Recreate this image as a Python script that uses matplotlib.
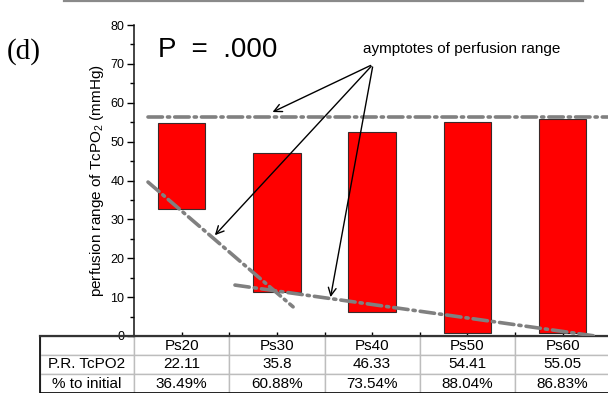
import matplotlib.pyplot as plt
from matplotlib.lines import Line2D

plt.rcParams['font.family'] = ['Liberation Sans', 'DejaVu Sans']
plt.rcParams['mathtext.fontset'] = 'custom'
plt.rcParams['mathtext.rm'] = 'Liberation Sans'
plt.rcParams['mathtext.it'] = 'Liberation Sans:italic'

categories = ['Ps20', 'Ps30', 'Ps40', 'Ps50', 'Ps60']
pr_range = [22.11, 35.8, 46.33, 54.41, 55.05]
pr_bottom = [32.7, 11.2, 6.1, 0.7, 0.65]
pct_initial = ['36.49%', '60.88%', '73.54%', '88.04%', '86.83%']
row_labels = ['', 'P.R. TcPO2', '% to initial']

# asymptote lines (x in category units, y in mmHg)
upper_x, upper_y = [0.647, 5.5], [56.4, 56.4]
steep_x, steep_y = [0.647, 2.17], [39.6, 7.5]
shallow_x, shallow_y = [1.56, 5.34], [13.1, 0.0]

note_text = 'aymptotes of perfusion range'
note_xy = (3.94, 73.8)
arrow_tail = (3.01, 69.9)
arrow_heads = [(1.928, 57.3), (1.329, 25.4), (2.558, 9.3)]

fig = plt.figure(figsize=(6.08, 3.93), dpi=100)
ax = fig.add_axes([134 / 608, 1 - 336 / 393, 474 / 608, 311 / 393])

x = list(range(1, len(categories) + 1))
ax.bar(x, pr_range, bottom=pr_bottom, width=0.5, color='#ff0000',
       edgecolor='#3a2a2a', linewidth=0.8, zorder=2)

dash = (0, (4, 1.4, 0.6, 1.4))
for lx, ly in [(upper_x, upper_y), (steep_x, steep_y), (shallow_x, shallow_y)]:
    ax.plot(lx, ly, color='#808080', lw=2.6, linestyle=dash,
            dash_capstyle='round', zorder=3)

ax.text(*note_xy, note_text, ha='center', va='center', fontsize=11)
for hx, hy in arrow_heads:
    ax.annotate('', xy=(hx, hy), xytext=arrow_tail,
                arrowprops=dict(arrowstyle='->', color='black', lw=1.0,
                                mutation_scale=14), zorder=4)

ax.text(0.752, 73.5, 'P  =  .000', ha='left', va='center', fontsize=20)

ax.set_xlim(0.5, 5.476)
ax.set_ylim(0, 80)
ax.set_yticks(range(0, 81, 10))
ax.set_yticks(range(5, 80, 10), minor=True)
ax.set_xticks(x)
ax.set_xticks([1.5, 2.5, 3.5, 4.5], minor=True)
ax.set_xticklabels([])
for side in ['top', 'right']:
    ax.spines[side].set_visible(False)
ax.spines['left'].set_linewidth(1.1)
ax.spines['left'].set_color('#111111')
ax.spines['bottom'].set_linewidth(1.6)
ax.spines['bottom'].set_color('#333333')
ax.tick_params(axis='y', which='major', direction='out', length=5,
               width=1.0, labelsize=9, pad=2)
ax.tick_params(axis='y', which='minor', direction='out', length=3, width=1.0)
ax.tick_params(axis='x', which='both', direction='in', length=3, width=1.0)
ax.set_ylabel('perfusion range of TcPO$_2$ (mmHg)', fontsize=11, labelpad=3)

# data table under the axis
cells = [[''] + categories,
         [row_labels[1]] + [f'{v:g}' for v in pr_range],
         [row_labels[2]] + pct_initial]
first_w = 94 / 474
col_w = 95.25 / 474
tbl = ax.table(cellText=cells, cellLoc='center',
               colWidths=[first_w] + [col_w] * 5,
               bbox=[-first_w, -57 / 311, first_w + 5 * col_w, 57 / 311])
tbl.auto_set_font_size(False)
tbl.set_fontsize(11)
for cell in tbl.get_celld().values():
    cell.set_edgecolor('#bdbdbd')
    cell.set_linewidth(1.0)
    cell.set_clip_on(False)
ax.plot([-first_w, -first_w, 1.01], [0, -57 / 311, -57 / 311],
        transform=ax.transAxes, color='black', lw=1.2, clip_on=False, zorder=5)
ax.plot([-first_w, 0], [0, 0], transform=ax.transAxes, color='#333333',
        lw=1.6, clip_on=False, zorder=5)

fig.text(24 / 608, 1 - 52 / 393, '(d)', family='Liberation Serif',
         fontsize=21, ha='center', va='center')
fig.add_artist(Line2D([64 / 608, 583 / 608], [1 - 0.5 / 393, 1 - 0.5 / 393],
                      color='#8a8a8a', lw=1.6))

fig.savefig('out.png', dpi=100)
